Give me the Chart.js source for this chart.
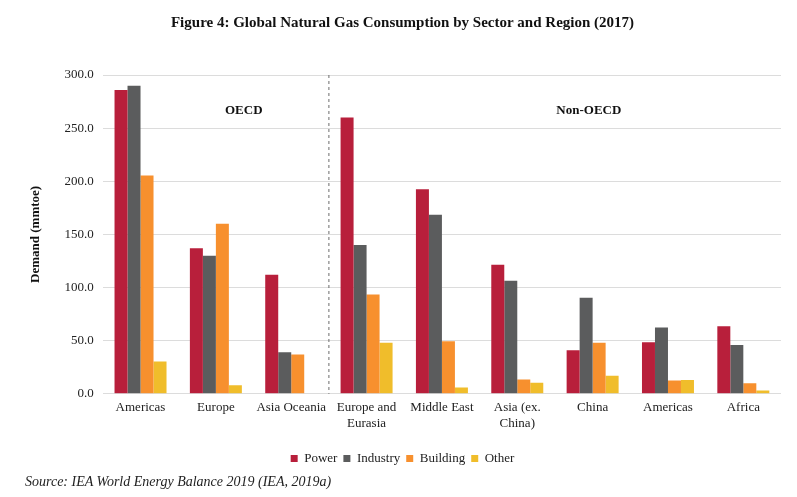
<!DOCTYPE html>
<html>
<head>
<meta charset="utf-8">
<script src="https://cdn.jsdelivr.net/npm/chart.js@4"></script>
<style>
  body { margin: 0; background: #fff; }
  #wrap { position: relative; width: 797px; height: 497px; }
  #fonte { position: absolute; left: 25px; top: 474px; font-family: "Liberation Serif", serif; font-style: italic; font-size: 14px; color: #222; }
</style>
</head>
<body>
<div id="wrap">
  <canvas id="grafico" width="797" height="497"></canvas>
  <div id="fonte">Source: IEA World Energy Balance 2019 (IEA, 2019a)</div>
</div>
<script>
// regiões (3 OECD + 6 não-OECD)
const regioes = ["Americas", "Europe", "Asia Oceania", ["Europe and", "Eurasia"], "Middle East", ["Asia (ex.", "China)"], "China", "Americas", "Africa"];
const power    = [286, 137, 112, 260, 192.5, 121.5, 41, 48.5, 63.5];
const industry = [290, 130, 39, 140, 168.5, 106.5, 90.5, 62.5, 46];
const building = [205.5, 160, 37, 93.5, 49.5, 13.5, 48, 12.5, 10];
const other    = [30.5, 8, 0, 48, 6, 10.5, 17, 13, 3];
const ticksY   = [0, 50, 100, 150, 200, 250, 300];

const fonte = "'Liberation Serif', serif";

// linha tracejada e rótulos OECD / Non-OECD
const divisoria = {
  id: "divisoria",
  afterDatasetsDraw(chart) {
    const { ctx, scales: { x, y } } = chart;
    const xd = (x.getPixelForValue(2) + x.getPixelForValue(3)) / 2;
    ctx.save();
    ctx.strokeStyle = "#6b6b6b";
    ctx.lineWidth = 1;
    ctx.setLineDash([3, 3]);
    ctx.beginPath();
    ctx.moveTo(xd, y.getPixelForValue(300));
    ctx.lineTo(xd, y.getPixelForValue(0));
    ctx.stroke();
    ctx.setLineDash([]);
    ctx.fillStyle = "#111";
    ctx.font = "bold 13px " + fonte;
    ctx.textAlign = "center";
    ctx.textBaseline = "middle";
    ctx.fillText("OECD", x.getPixelForValue(1.37), y.getPixelForValue(266));
    ctx.fillText("Non-OECD", x.getPixelForValue(5.95), y.getPixelForValue(266));
    ctx.restore();
  }
};

new Chart(document.getElementById("grafico"), {
  type: "bar",
  data: {
    labels: regioes,
    datasets: [
      { label: "Power", data: power, backgroundColor: "#b81f3b" },
      { label: "Industry", data: industry, backgroundColor: "#5b5c5d" },
      { label: "Building", data: building, backgroundColor: "#f7902e" },
      { label: "Other", data: other, backgroundColor: "#f0bd2b" }
    ]
  },
  options: {
    responsive: false,
    animation: false,
    layout: { padding: { left: 24, right: 16, top: 6, bottom: 22 } },
    datasets: { bar: { categoryPercentage: 0.69, barPercentage: 1 } },
    plugins: {
      title: {
        display: true,
        text: "Figure 4: Global Natural Gas Consumption by Sector and Region (2017)",
        color: "#111",
        font: { family: fonte, size: 15, weight: "bold" },
        padding: { top: 8, bottom: 43 }
      },
      legend: {
        position: "bottom",
        labels: {
          color: "#222",
          font: { family: fonte, size: 13 },
          boxWidth: 7,
          boxHeight: 7,
          padding: 6
        }
      },
      tooltip: { enabled: false }
    },
    scales: {
      x: {
        grid: { display: false },
        border: { display: false },
        // espaço extra entre rótulos e legenda
        afterFit(scale) { scale.height += 17; },
        ticks: { color: "#222", font: { family: fonte, size: 13 }, maxRotation: 0, autoSkip: false, padding: -2 }
      },
      y: {
        min: 0,
        max: 300,
        afterBuildTicks(axis) { axis.ticks = ticksY.map(v => ({ value: v })); },
        grid: { color: "#dcdcdc", drawTicks: false },
        border: { display: false },
        ticks: { color: "#222", font: { family: fonte, size: 13 }, padding: 9, callback: v => v.toFixed(1) },
        title: { display: true, text: "Demand (mmtoe)", color: "#111", font: { family: fonte, size: 13, weight: "bold" }, padding: { bottom: 12 } }
      }
    }
  },
  plugins: [divisoria]
});
</script>
</body>
</html>
